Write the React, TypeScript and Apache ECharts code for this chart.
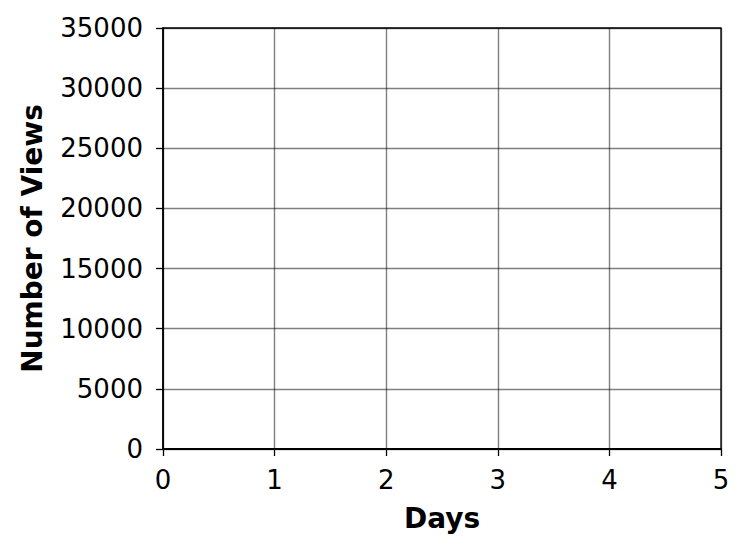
import React, { useEffect, useRef } from 'react';
import * as echarts from 'echarts';

const xMin = 0;
const xMax = 5;
const xStep = 1;
const yMin = 0;
const yMax = 35000;
const yStep = 5000;
const xName = 'Days';
const yName = 'Number of Views';
const viewsSeries: [number, number][] = [];

const FONT = 'DejaVu Sans';

const App = () => {
  const chartRef = useRef<HTMLDivElement>(null);

  useEffect(() => {
    const myChart = echarts.init(chartRef.current, null, { renderer: 'svg' });

    const option = {
      animation: false,
      backgroundColor: '#fff',
      grid: {
        left: 163,
        top: 28,
        width: 558,
        height: 421,
        show: true,
        borderColor: '#000',
        borderWidth: 1.3,
        backgroundColor: 'transparent'
      },
      xAxis: {
        type: 'value',
        min: xMin,
        max: xMax,
        interval: xStep,
        name: xName,
        nameLocation: 'middle',
        nameGap: 55,
        nameTextStyle: { fontFamily: FONT, fontWeight: 'bold', fontSize: 28, color: '#000' },
        axisLine: { show: true, lineStyle: { color: '#000', width: 2 } },
        axisTick: { show: true, length: 7, lineStyle: { color: '#000', width: 1.3 } },
        axisLabel: { fontFamily: FONT, fontSize: 26, color: '#000', margin: 18 },
        splitLine: { show: true, lineStyle: { color: 'rgba(0,0,0,0.5)', width: 1.4 } }
      },
      yAxis: {
        type: 'value',
        min: yMin,
        max: yMax,
        interval: yStep,
        name: yName,
        nameLocation: 'middle',
        nameGap: 117,
        nameTextStyle: { fontFamily: FONT, fontWeight: 'bold', fontSize: 28, color: '#000' },
        axisLine: { show: true, lineStyle: { color: '#000', width: 1.6 } },
        axisTick: { show: true, length: 7, lineStyle: { color: '#000', width: 1.3 } },
        axisLabel: {
          fontFamily: FONT,
          fontSize: 26,
          color: '#000',
          margin: 20,
          formatter: (v: number) => String(v)
        },
        splitLine: { show: true, lineStyle: { color: 'rgba(0,0,0,0.5)', width: 1.4 } }
      },
      series: [
        {
          type: 'line',
          data: viewsSeries,
          showSymbol: false
        }
      ]
    };

    myChart.setOption(option);

    return () => {
      myChart.dispose();
    };
  }, []);

  return (
    <div
      ref={chartRef}
      style={{ position: 'fixed', left: 0, top: 0, width: '749px', height: '554px' }}
    />
  );
};

export default App;
